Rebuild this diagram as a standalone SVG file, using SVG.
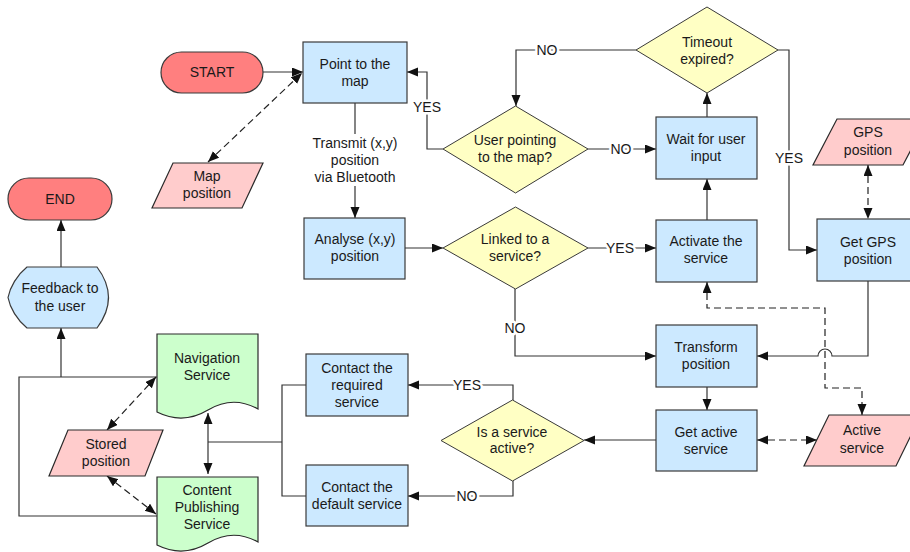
<svg xmlns="http://www.w3.org/2000/svg" width="910" height="552" viewBox="0 0 910 552">
<defs>
<marker id="arr" markerWidth="12" markerHeight="10" refX="11" refY="4.5" orient="auto-start-reverse" markerUnits="userSpaceOnUse">
<path d="M0,0 L11,4.5 L0,9 Z" fill="#111"/>
</marker>
<style>
text{font-family:"Liberation Sans",Arial,sans-serif;font-size:14px;fill:#1a1a1a;text-anchor:middle}
.proc{fill:#cce9ff;stroke:#3a3a3a;stroke-width:1.2}
.dec{fill:#ffffc4;stroke:#3a3a3a;stroke-width:1}
.term{fill:#ff7f7f;stroke:#3a3a3a;stroke-width:1.2}
.data{fill:#ffcccc;stroke:#2a2a2a;stroke-width:1.2}
.doc{fill:#ccffcc;stroke:#2a2a2a;stroke-width:1.2}
.disp{fill:#cce9ff;stroke:#3a3a3a;stroke-width:1.2}
.c{fill:none;stroke:#333;stroke-width:1.2}
.ca{fill:none;stroke:#333;stroke-width:1.2;marker-end:url(#arr)}
.d2{fill:none;stroke:#222;stroke-width:1.2;stroke-dasharray:7,4;marker-start:url(#arr);marker-end:url(#arr)}
.lbl{stroke:#fff;stroke-width:5;paint-order:stroke;stroke-linejoin:round}
</style>
</defs>

<g id="connectors">
<path class="ca" d="M263,72 H303"/>
<path class="c" d="M355,103 V134"/>
<path class="ca" d="M355,186 V218"/>
<path class="ca" d="M405,248 H443"/>
<path class="ca" d="M588,248 H656"/>
<path class="ca" d="M707,220 V179"/>
<path class="ca" d="M707,117 V93"/>
<path class="ca" d="M636,50 H516 V106"/>
<path class="ca" d="M588,149 H656"/>
<path class="ca" d="M443,149 H427 V72 H407"/>
<path class="ca" d="M778,50 H789 V250 H817"/>
<path class="ca" d="M515,289 V356 H656"/>
<path class="ca" d="M868,281 V356 H832 A7,7 0 0 0 818,356 H757"/>
<path class="ca" d="M707,387 V410"/>
<path class="ca" d="M656,440 H584"/>
<path class="ca" d="M513,400 V385 H408"/>
<path class="ca" d="M513,481 V496 H408"/>
<path class="c" d="M306,385 H282 V496 H306"/>
<path class="c" d="M282,442 H208"/>
<path class="c" d="M208,413 V474" style="marker-start:url(#arr);marker-end:url(#arr)"/>
<path class="c" d="M157,377 H19 V516 H157"/>
<path class="ca" d="M61,377 V328"/>
<path class="ca" d="M61,267 V220"/>
<path class="d2" d="M208,162 L302,73"/>
<path class="d2" d="M868,165 V219"/>
<path class="d2" d="M757,440 H817"/>
<path class="d2" d="M707,282 V308 H825 V388 H862 V415"/>
<path class="d2" d="M107,430 L156,377"/>
<path class="d2" d="M107,476 L156,514"/>
<text class="lbl" x="355" y="148">Transmit (x,y)</text>
<text class="lbl" x="355" y="165">position</text>
<text class="lbl" x="355" y="182">via Bluetooth</text>
<text class="lbl" x="427" y="112">YES</text>
<text class="lbl" x="547" y="55">NO</text>
<text class="lbl" x="621" y="154">NO</text>
<text class="lbl" x="620" y="253">YES</text>
<text class="lbl" x="789" y="163">YES</text>
<text class="lbl" x="515" y="333">NO</text>
<text class="lbl" x="467" y="390">YES</text>
<text class="lbl" x="467" y="501">NO</text>
</g>

<g id="start">
<rect class="term" x="161" y="52" width="102" height="41" rx="20.5"/>
<text x="212" y="77">START</text>
</g>
<g id="end">
<rect class="term" x="8" y="178" width="104" height="42" rx="21"/>
<text x="60" y="204">END</text>
</g>
<g id="point-map">
<rect class="proc" x="303" y="42" width="104" height="61"/>
<text x="355" y="69">Point to the</text>
<text x="355" y="86">map</text>
</g>
<g id="map-position">
<path class="data" d="M173,163 H263 L242,208 H152 Z"/>
<text x="207" y="181">Map</text>
<text x="207" y="198">position</text>
</g>
<g id="analyse">
<rect class="proc" x="304" y="218" width="101" height="61"/>
<text x="355" y="244">Analyse (x,y)</text>
<text x="355" y="261">position</text>
</g>
<g id="linked">
<path class="dec" d="M515.5,207 L588,248 L515.5,289 L443,248 Z"/>
<text x="515" y="244">Linked to a</text>
<text x="515" y="261">service?</text>
</g>
<g id="user-pointing">
<path class="dec" d="M515.5,106 L588,149 L515.5,193 L443,149 Z"/>
<text x="515" y="145">User pointing</text>
<text x="515" y="162">to the map?</text>
</g>
<g id="timeout">
<path class="dec" d="M707,7 L778,50 L707,93 L636,50 Z"/>
<text x="707" y="47">Timeout</text>
<text x="707" y="64">expired?</text>
</g>
<g id="wait">
<rect class="proc" x="656" y="117" width="101" height="62"/>
<text x="706" y="144">Wait for user</text>
<text x="706" y="161">input</text>
</g>
<g id="activate">
<rect class="proc" x="656" y="220" width="101" height="62"/>
<text x="706" y="246">Activate the</text>
<text x="706" y="263">service</text>
</g>
<g id="gps-position">
<path class="data" d="M837,119 H927 L903,165 H813 Z"/>
<text x="868" y="137">GPS</text>
<text x="868" y="155">position</text>
</g>
<g id="get-gps">
<rect class="proc" x="817" y="219" width="102" height="62"/>
<text x="868" y="247">Get GPS</text>
<text x="868" y="264">position</text>
</g>
<g id="transform">
<rect class="proc" x="656" y="325" width="101" height="62"/>
<text x="706" y="352">Transform</text>
<text x="706" y="369">position</text>
</g>
<g id="get-active">
<rect class="proc" x="656" y="410" width="101" height="61"/>
<text x="706" y="437">Get active</text>
<text x="706" y="454">service</text>
</g>
<g id="active-service">
<path class="data" d="M829,415 H921 L896,466 H804 Z"/>
<text x="862" y="435">Active</text>
<text x="862" y="453">service</text>
</g>
<g id="is-active">
<path class="dec" d="M512.5,400 L584,440.5 L512.5,481 L441,440.5 Z"/>
<text x="512" y="437">Is a service</text>
<text x="512" y="453">active?</text>
</g>
<g id="contact-required">
<rect class="proc" x="306" y="354" width="102" height="62"/>
<text x="357" y="373">Contact the</text>
<text x="357" y="390">required</text>
<text x="357" y="407">service</text>
</g>
<g id="contact-default">
<rect class="proc" x="306" y="465" width="102" height="61"/>
<text x="357" y="492">Contact the</text>
<text x="357" y="509">default service</text>
</g>
<g id="navigation">
<path class="doc" d="M157,334 H258 V409 Q233,395 208,410 T157,412 Z"/>
<text x="207" y="363">Navigation</text>
<text x="207" y="380">Service</text>
</g>
<g id="content">
<path class="doc" d="M157,477 H258 V542 Q233,528 208,543 T157,545 Z"/>
<text x="207" y="495">Content</text>
<text x="207" y="512">Publishing</text>
<text x="207" y="529">Service</text>
</g>
<g id="stored-position">
<path class="data" d="M68,430 H163 L145,476 H49 Z"/>
<text x="106" y="449">Stored</text>
<text x="106" y="466">position</text>
</g>
<g id="feedback">
<path class="disp" d="M27,267 H97 Q120,297.5 97,328 H27 C17,320 10,308 8,297.5 C10,287 17,275 27,267 Z"/>
<text x="60" y="293">Feedback to</text>
<text x="60" y="311">the user</text>
</g>
</svg>
